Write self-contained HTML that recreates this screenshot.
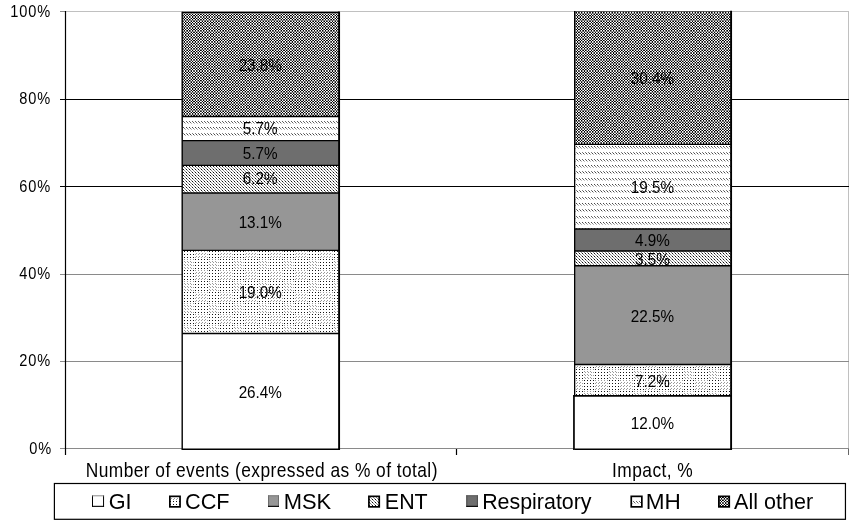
<!DOCTYPE html>
<html lang="en"><head><meta charset="utf-8"><title>Stacked bar chart</title>
<style>
html,body{margin:0;padding:0;background:#fff;}
body{width:853px;height:521px;overflow:hidden;}
svg{display:block;}
text{font-family:"Liberation Sans",Arial,sans-serif;fill:#000;}
.t12{font-size:16.4px;letter-spacing:1px;}.d12{font-size:15.9px;}.t14{font-size:18.67px;letter-spacing:0.47px;}.t16{font-size:22.2px;}
</style></head><body>
<svg width="853" height="521" viewBox="0 0 853 521">
<defs>
<pattern id="pAll" width="36" height="36" patternUnits="userSpaceOnUse" patternTransform="translate(0 0)"><g shape-rendering="crispEdges"><rect width="36" height="36" fill="#ffffff"/><path d="M1 0h1v1h-1zM4 0h1v1h-1zM7 0h1v1h-1zM9 0h1v1h-1zM12 0h1v1h-1zM15 0h1v1h-1zM18 0h1v1h-1zM20 0h1v1h-1zM23 0h1v1h-1zM26 0h1v1h-1zM29 0h1v1h-1zM32 0h1v1h-1zM34 0h1v1h-1zM0 1h1v1h-1zM5 1h1v1h-1zM8 1h1v1h-1zM11 1h1v1h-1zM16 1h1v1h-1zM19 1h1v1h-1zM22 1h1v1h-1zM25 1h1v1h-1zM27 1h1v1h-1zM30 1h1v1h-1zM33 1h1v1h-1zM1 3h1v1h-1zM4 3h1v1h-1zM7 3h1v1h-1zM9 3h1v1h-1zM12 3h1v1h-1zM15 3h1v1h-1zM18 3h1v1h-1zM23 3h1v1h-1zM26 3h1v1h-1zM29 3h1v1h-1zM34 3h1v1h-1zM0 4h1v1h-1zM2 4h1v1h-1zM5 4h1v1h-1zM8 4h1v1h-1zM11 4h1v1h-1zM14 4h1v1h-1zM16 4h1v1h-1zM19 4h1v1h-1zM22 4h1v1h-1zM25 4h1v1h-1zM27 4h1v1h-1zM30 4h1v1h-1zM33 4h1v1h-1zM1 5h1v1h-1zM4 5h1v1h-1zM12 5h1v1h-1zM15 5h1v1h-1zM23 5h1v1h-1zM26 5h1v1h-1zM29 5h1v1h-1zM34 5h1v1h-1zM0 7h1v1h-1zM2 7h1v1h-1zM5 7h1v1h-1zM8 7h1v1h-1zM11 7h1v1h-1zM14 7h1v1h-1zM16 7h1v1h-1zM19 7h1v1h-1zM22 7h1v1h-1zM25 7h1v1h-1zM27 7h1v1h-1zM30 7h1v1h-1zM33 7h1v1h-1zM1 8h1v1h-1zM4 8h1v1h-1zM7 8h1v1h-1zM9 8h1v1h-1zM12 8h1v1h-1zM15 8h1v1h-1zM18 8h1v1h-1zM20 8h1v1h-1zM23 8h1v1h-1zM26 8h1v1h-1zM29 8h1v1h-1zM32 8h1v1h-1zM34 8h1v1h-1zM0 10h1v1h-1zM5 10h1v1h-1zM8 10h1v1h-1zM11 10h1v1h-1zM16 10h1v1h-1zM19 10h1v1h-1zM22 10h1v1h-1zM30 10h1v1h-1zM33 10h1v1h-1zM1 11h1v1h-1zM4 11h1v1h-1zM7 11h1v1h-1zM9 11h1v1h-1zM12 11h1v1h-1zM15 11h1v1h-1zM18 11h1v1h-1zM20 11h1v1h-1zM23 11h1v1h-1zM26 11h1v1h-1zM29 11h1v1h-1zM32 11h1v1h-1zM34 11h1v1h-1zM0 12h1v1h-1zM5 12h1v1h-1zM8 12h1v1h-1zM11 12h1v1h-1zM16 12h1v1h-1zM19 12h1v1h-1zM22 12h1v1h-1zM25 12h1v1h-1zM27 12h1v1h-1zM30 12h1v1h-1zM33 12h1v1h-1zM1 14h1v1h-1zM4 14h1v1h-1zM7 14h1v1h-1zM9 14h1v1h-1zM12 14h1v1h-1zM15 14h1v1h-1zM18 14h1v1h-1zM20 14h1v1h-1zM23 14h1v1h-1zM26 14h1v1h-1zM29 14h1v1h-1zM34 14h1v1h-1zM0 15h1v1h-1zM2 15h1v1h-1zM5 15h1v1h-1zM8 15h1v1h-1zM11 15h1v1h-1zM14 15h1v1h-1zM16 15h1v1h-1zM19 15h1v1h-1zM22 15h1v1h-1zM25 15h1v1h-1zM27 15h1v1h-1zM30 15h1v1h-1zM33 15h1v1h-1zM1 17h1v1h-1zM4 17h1v1h-1zM12 17h1v1h-1zM15 17h1v1h-1zM26 17h1v1h-1zM0 18h1v1h-1zM2 18h1v1h-1zM5 18h1v1h-1zM8 18h1v1h-1zM11 18h1v1h-1zM14 18h1v1h-1zM16 18h1v1h-1zM19 18h1v1h-1zM22 18h1v1h-1zM25 18h1v1h-1zM27 18h1v1h-1zM30 18h1v1h-1zM33 18h1v1h-1zM1 19h1v1h-1zM4 19h1v1h-1zM7 19h1v1h-1zM9 19h1v1h-1zM12 19h1v1h-1zM15 19h1v1h-1zM18 19h1v1h-1zM23 19h1v1h-1zM26 19h1v1h-1zM29 19h1v1h-1zM34 19h1v1h-1zM0 21h1v1h-1zM5 21h1v1h-1zM8 21h1v1h-1zM11 21h1v1h-1zM16 21h1v1h-1zM19 21h1v1h-1zM22 21h1v1h-1zM25 21h1v1h-1zM27 21h1v1h-1zM30 21h1v1h-1zM33 21h1v1h-1zM1 22h1v1h-1zM4 22h1v1h-1zM7 22h1v1h-1zM9 22h1v1h-1zM12 22h1v1h-1zM15 22h1v1h-1zM18 22h1v1h-1zM20 22h1v1h-1zM23 22h1v1h-1zM26 22h1v1h-1zM29 22h1v1h-1zM32 22h1v1h-1zM34 22h1v1h-1zM5 23h1v1h-1zM8 23h1v1h-1zM11 23h1v1h-1zM16 23h1v1h-1zM19 23h1v1h-1zM22 23h1v1h-1zM30 23h1v1h-1zM33 23h1v1h-1zM1 25h1v1h-1zM4 25h1v1h-1zM7 25h1v1h-1zM9 25h1v1h-1zM12 25h1v1h-1zM15 25h1v1h-1zM18 25h1v1h-1zM20 25h1v1h-1zM23 25h1v1h-1zM26 25h1v1h-1zM29 25h1v1h-1zM32 25h1v1h-1zM34 25h1v1h-1zM0 26h1v1h-1zM2 26h1v1h-1zM5 26h1v1h-1zM8 26h1v1h-1zM11 26h1v1h-1zM14 26h1v1h-1zM16 26h1v1h-1zM19 26h1v1h-1zM22 26h1v1h-1zM25 26h1v1h-1zM27 26h1v1h-1zM30 26h1v1h-1zM33 26h1v1h-1zM1 28h1v1h-1zM4 28h1v1h-1zM12 28h1v1h-1zM15 28h1v1h-1zM18 28h1v1h-1zM23 28h1v1h-1zM26 28h1v1h-1zM29 28h1v1h-1zM34 28h1v1h-1zM0 29h1v1h-1zM2 29h1v1h-1zM5 29h1v1h-1zM8 29h1v1h-1zM11 29h1v1h-1zM14 29h1v1h-1zM16 29h1v1h-1zM19 29h1v1h-1zM22 29h1v1h-1zM25 29h1v1h-1zM27 29h1v1h-1zM30 29h1v1h-1zM33 29h1v1h-1zM1 30h1v1h-1zM4 30h1v1h-1zM7 30h1v1h-1zM9 30h1v1h-1zM12 30h1v1h-1zM15 30h1v1h-1zM18 30h1v1h-1zM23 30h1v1h-1zM26 30h1v1h-1zM29 30h1v1h-1zM34 30h1v1h-1zM0 32h1v1h-1zM2 32h1v1h-1zM5 32h1v1h-1zM8 32h1v1h-1zM11 32h1v1h-1zM16 32h1v1h-1zM19 32h1v1h-1zM22 32h1v1h-1zM25 32h1v1h-1zM27 32h1v1h-1zM30 32h1v1h-1zM33 32h1v1h-1zM1 33h1v1h-1zM4 33h1v1h-1zM7 33h1v1h-1zM9 33h1v1h-1zM12 33h1v1h-1zM15 33h1v1h-1zM18 33h1v1h-1zM20 33h1v1h-1zM23 33h1v1h-1zM26 33h1v1h-1zM29 33h1v1h-1zM32 33h1v1h-1zM34 33h1v1h-1zM8 35h1v1h-1zM19 35h1v1h-1zM22 35h1v1h-1zM30 35h1v1h-1zM33 35h1v1h-1z" fill="#000000"/><path d="M2 1h1v1h-1zM14 1h1v1h-1zM20 3h1v1h-1zM13 4h1v1h-1zM18 5h1v1h-1zM25 10h1v1h-1zM27 10h1v1h-1zM31 11h1v1h-1zM32 14h1v1h-1zM1 16h1v1h-1zM12 16h1v1h-1zM15 16h1v1h-1zM26 16h1v1h-1zM23 17h1v1h-1zM29 17h1v1h-1zM20 19h1v1h-1zM32 19h1v1h-1zM2 21h1v1h-1zM31 22h1v1h-1zM0 23h1v1h-1zM7 28h1v1h-1zM9 28h1v1h-1zM13 29h1v1h-1zM14 32h1v1h-1zM8 34h1v1h-1zM19 34h1v1h-1zM30 34h1v1h-1zM33 34h1v1h-1zM5 35h1v1h-1zM11 35h1v1h-1z" fill="#111111"/><path d="M21 0h1v1h-1zM31 0h1v1h-1zM32 3h1v1h-1zM3 4h1v1h-1zM7 5h1v1h-1zM9 5h1v1h-1zM13 7h1v1h-1zM31 8h1v1h-1zM2 10h1v1h-1zM21 11h1v1h-1zM2 12h1v1h-1zM14 12h1v1h-1zM31 14h1v1h-1zM13 15h1v1h-1zM4 16h1v1h-1zM23 16h1v1h-1zM29 16h1v1h-1zM34 16h1v1h-1zM9 17h1v1h-1zM18 17h1v1h-1zM34 17h1v1h-1zM3 18h1v1h-1zM13 18h1v1h-1zM14 21h1v1h-1zM21 22h1v1h-1zM25 23h1v1h-1zM27 23h1v1h-1zM31 25h1v1h-1zM13 26h1v1h-1zM20 28h1v1h-1zM3 29h1v1h-1zM20 30h1v1h-1zM32 30h1v1h-1zM13 32h1v1h-1zM31 33h1v1h-1zM5 34h1v1h-1zM11 34h1v1h-1zM16 34h1v1h-1zM22 34h1v1h-1zM0 35h1v1h-1zM16 35h1v1h-1zM27 35h1v1h-1z" fill="#222222"/><path d="M3 1h1v1h-1zM13 1h1v1h-1zM31 3h1v1h-1zM20 5h1v1h-1zM32 5h1v1h-1zM1 6h1v1h-1zM4 6h1v1h-1zM12 6h1v1h-1zM15 6h1v1h-1zM23 6h1v1h-1zM26 6h1v1h-1zM29 6h1v1h-1zM3 7h1v1h-1zM21 8h1v1h-1zM14 10h1v1h-1zM13 12h1v1h-1zM21 14h1v1h-1zM3 15h1v1h-1zM9 16h1v1h-1zM18 16h1v1h-1zM7 17h1v1h-1zM21 19h1v1h-1zM31 19h1v1h-1zM13 21h1v1h-1zM2 23h1v1h-1zM14 23h1v1h-1zM5 24h1v1h-1zM8 24h1v1h-1zM11 24h1v1h-1zM19 24h1v1h-1zM22 24h1v1h-1zM30 24h1v1h-1zM33 24h1v1h-1zM21 25h1v1h-1zM3 26h1v1h-1zM32 28h1v1h-1zM31 30h1v1h-1zM3 32h1v1h-1zM21 33h1v1h-1zM0 34h1v1h-1zM27 34h1v1h-1zM25 35h1v1h-1z" fill="#333333"/><path d="M6 0h1v1h-1zM21 3h1v1h-1zM24 4h1v1h-1zM31 5h1v1h-1zM9 6h1v1h-1zM18 6h1v1h-1zM34 6h1v1h-1zM5 9h1v1h-1zM8 9h1v1h-1zM11 9h1v1h-1zM19 9h1v1h-1zM22 9h1v1h-1zM30 9h1v1h-1zM33 9h1v1h-1zM3 10h1v1h-1zM13 10h1v1h-1zM6 11h1v1h-1zM3 12h1v1h-1zM24 15h1v1h-1zM7 16h1v1h-1zM20 16h1v1h-1zM20 17h1v1h-1zM32 17h1v1h-1zM24 18h1v1h-1zM3 21h1v1h-1zM6 22h1v1h-1zM13 23h1v1h-1zM0 24h1v1h-1zM16 24h1v1h-1zM27 24h1v1h-1zM1 27h1v1h-1zM4 27h1v1h-1zM12 27h1v1h-1zM15 27h1v1h-1zM23 27h1v1h-1zM26 27h1v1h-1zM29 27h1v1h-1zM21 28h1v1h-1zM31 28h1v1h-1zM24 29h1v1h-1zM21 30h1v1h-1zM6 33h1v1h-1zM2 34h1v1h-1zM25 34h1v1h-1zM2 35h1v1h-1zM14 35h1v1h-1z" fill="#444444"/><path d="M10 0h1v1h-1zM24 1h1v1h-1zM6 3h1v1h-1zM28 4h1v1h-1zM21 5h1v1h-1zM7 6h1v1h-1zM20 6h1v1h-1zM32 6h1v1h-1zM24 7h1v1h-1zM28 7h1v1h-1zM6 8h1v1h-1zM0 9h1v1h-1zM16 9h1v1h-1zM25 9h1v1h-1zM27 9h1v1h-1zM10 11h1v1h-1zM24 12h1v1h-1zM6 14h1v1h-1zM28 15h1v1h-1zM31 16h2v1h-2zM21 17h1v1h-1zM31 17h1v1h-1zM28 18h1v1h-1zM6 19h1v1h-1zM24 21h1v1h-1zM10 22h1v1h-1zM3 23h1v1h-1zM2 24h1v1h-1zM14 24h1v1h-1zM25 24h1v1h-1zM6 25h1v1h-1zM10 25h1v1h-1zM24 26h1v1h-1zM7 27h1v1h-1zM9 27h1v1h-1zM18 27h1v1h-1zM34 27h1v1h-1zM28 29h1v1h-1zM6 30h1v1h-1zM24 32h1v1h-1zM10 33h1v1h-1zM13 34h2v1h-2zM3 35h1v1h-1zM13 35h1v1h-1z" fill="#555555"/><path d="M28 1h1v1h-1zM10 3h1v1h-1zM6 5h1v1h-1zM10 5h1v1h-1zM21 6h1v1h-1zM31 6h1v1h-1zM10 8h1v1h-1zM2 9h1v1h-1zM13 9h2v1h-2zM24 10h1v1h-1zM28 10h1v1h-1zM28 12h1v1h-1zM0 13h1v1h-1zM5 13h1v1h-1zM8 13h1v1h-1zM11 13h1v1h-1zM16 13h1v1h-1zM19 13h1v1h-1zM22 13h1v1h-1zM25 13h1v1h-1zM27 13h1v1h-1zM30 13h1v1h-1zM33 13h1v1h-1zM10 14h1v1h-1zM6 16h1v1h-1zM21 16h1v1h-1zM6 17h1v1h-1zM10 19h1v1h-1zM28 21h1v1h-1zM24 23h1v1h-1zM28 23h1v1h-1zM3 24h1v1h-1zM13 24h1v1h-1zM28 26h1v1h-1zM20 27h1v1h-1zM31 27h2v1h-2zM6 28h1v1h-1zM10 28h1v1h-1zM10 30h1v1h-1zM1 31h1v1h-1zM4 31h1v1h-1zM7 31h1v1h-1zM9 31h1v1h-1zM12 31h1v1h-1zM15 31h1v1h-1zM18 31h1v1h-1zM23 31h1v1h-1zM26 31h1v1h-1zM29 31h1v1h-1zM34 31h1v1h-1zM28 32h1v1h-1zM3 34h1v1h-1zM24 34h1v1h-1zM24 35h1v1h-1z" fill="#666666"/><path d="M17 0h1v1h-1zM35 1h1v1h-1zM1 2h1v1h-1zM4 2h1v1h-1zM7 2h1v1h-1zM9 2h1v1h-1zM12 2h1v1h-1zM15 2h1v1h-1zM18 2h1v1h-1zM20 2h1v1h-1zM23 2h1v1h-1zM26 2h1v1h-1zM29 2h1v1h-1zM31 2h2v1h-2zM34 2h1v1h-1zM17 3h1v1h-1zM35 4h1v1h-1zM6 6h1v1h-1zM10 6h1v1h-1zM35 7h1v1h-1zM17 8h1v1h-1zM3 9h1v1h-1zM24 9h1v1h-1zM28 9h1v1h-1zM35 10h1v1h-1zM17 11h1v1h-1zM35 12h1v1h-1zM2 13h2v1h-2zM13 13h2v1h-2zM24 13h1v1h-1zM28 13h1v1h-1zM17 14h1v1h-1zM35 15h1v1h-1zM10 16h1v1h-1zM10 17h1v1h-1zM35 18h1v1h-1zM17 19h1v1h-1zM0 20h1v1h-1zM2 20h1v1h-1zM5 20h1v1h-1zM8 20h1v1h-1zM11 20h1v1h-1zM13 20h2v1h-2zM16 20h1v1h-1zM19 20h1v1h-1zM22 20h1v1h-1zM25 20h1v1h-1zM27 20h1v1h-1zM30 20h1v1h-1zM33 20h1v1h-1zM35 21h1v1h-1zM17 22h1v1h-1zM24 24h1v1h-1zM28 24h1v1h-1zM17 25h1v1h-1zM35 26h1v1h-1zM6 27h1v1h-1zM10 27h1v1h-1zM21 27h1v1h-1zM17 28h1v1h-1zM35 29h1v1h-1zM17 30h1v1h-1zM6 31h1v1h-1zM10 31h1v1h-1zM20 31h2v1h-2zM31 31h2v1h-2zM35 32h1v1h-1zM17 33h1v1h-1zM28 34h1v1h-1zM28 35h1v1h-1z" fill="#777777"/><path d="M35 0h1v1h-1zM17 1h1v1h-1zM0 2h1v1h-1zM2 2h2v1h-2zM6 2h1v1h-1zM10 2h1v1h-1zM13 2h2v1h-2zM16 2h2v1h-2zM21 2h1v1h-1zM24 2h2v1h-2zM27 2h2v1h-2zM35 2h1v1h-1zM35 3h1v1h-1zM17 4h1v1h-1zM17 5h1v1h-1zM35 5h1v1h-1zM17 6h1v1h-1zM35 6h1v1h-1zM17 7h1v1h-1zM35 8h1v1h-1zM10 9h1v1h-1zM17 9h1v1h-1zM35 9h1v1h-1zM17 10h1v1h-1zM35 11h1v1h-1zM17 12h1v1h-1zM6 13h1v1h-1zM10 13h1v1h-1zM17 13h1v1h-1zM21 13h1v1h-1zM35 13h1v1h-1zM35 14h1v1h-1zM17 15h1v1h-1zM17 16h1v1h-1zM35 16h1v1h-1zM17 17h1v1h-1zM35 17h1v1h-1zM17 18h1v1h-1zM35 19h1v1h-1zM3 20h1v1h-1zM6 20h2v1h-2zM9 20h2v1h-2zM17 20h2v1h-2zM20 20h2v1h-2zM24 20h1v1h-1zM28 20h1v1h-1zM31 20h2v1h-2zM34 20h2v1h-2zM17 21h1v1h-1zM35 22h1v1h-1zM17 23h1v1h-1zM35 23h1v1h-1zM17 24h1v1h-1zM35 24h1v1h-1zM35 25h1v1h-1zM17 26h1v1h-1zM17 27h1v1h-1zM28 27h1v1h-1zM35 27h1v1h-1zM35 28h1v1h-1zM17 29h1v1h-1zM35 30h1v1h-1zM3 31h1v1h-1zM17 31h1v1h-1zM24 31h1v1h-1zM28 31h1v1h-1zM35 31h1v1h-1zM17 32h1v1h-1zM35 33h1v1h-1zM17 34h1v1h-1zM35 34h1v1h-1zM17 35h1v1h-1zM35 35h1v1h-1z" fill="#888888"/><path d="M5 2h1v1h-1zM8 2h1v1h-1zM11 2h1v1h-1zM19 2h1v1h-1zM22 2h1v1h-1zM30 2h1v1h-1zM33 2h1v1h-1zM28 5h1v1h-1zM3 6h1v1h-1zM24 6h1v1h-1zM28 6h1v1h-1zM6 9h1v1h-1zM21 9h1v1h-1zM31 9h1v1h-1zM10 10h1v1h-1zM7 13h1v1h-1zM9 13h1v1h-1zM18 13h1v1h-1zM20 13h1v1h-1zM31 13h2v1h-2zM24 16h1v1h-1zM28 16h1v1h-1zM24 17h1v1h-1zM28 17h1v1h-1zM1 20h1v1h-1zM4 20h1v1h-1zM12 20h1v1h-1zM15 20h1v1h-1zM23 20h1v1h-1zM26 20h1v1h-1zM29 20h1v1h-1zM10 23h1v1h-1zM6 24h1v1h-1zM10 24h1v1h-1zM21 24h1v1h-1zM3 27h1v1h-1zM13 27h1v1h-1zM24 27h1v1h-1zM28 28h1v1h-1zM0 31h1v1h-1zM2 31h1v1h-1zM13 31h2v1h-2zM25 31h1v1h-1zM27 31h1v1h-1zM6 34h1v1h-1zM10 34h1v1h-1zM6 35h1v1h-1zM10 35h1v1h-1z" fill="#999999"/><path d="M28 0h1v1h-1zM10 1h1v1h-1zM24 3h1v1h-1zM28 3h1v1h-1zM10 4h1v1h-1zM24 5h1v1h-1zM2 6h1v1h-1zM13 6h2v1h-2zM10 7h1v1h-1zM28 8h1v1h-1zM7 9h1v1h-1zM9 9h1v1h-1zM20 9h1v1h-1zM32 9h1v1h-1zM6 10h1v1h-1zM28 11h1v1h-1zM6 12h1v1h-1zM10 12h1v1h-1zM1 13h1v1h-1zM4 13h1v1h-1zM12 13h1v1h-1zM15 13h1v1h-1zM23 13h1v1h-1zM26 13h1v1h-1zM29 13h1v1h-1zM34 13h1v1h-1zM28 14h1v1h-1zM10 15h1v1h-1zM3 16h1v1h-1zM13 16h1v1h-1zM3 17h1v1h-1zM10 18h1v1h-1zM28 19h1v1h-1zM6 21h1v1h-1zM10 21h1v1h-1zM28 22h1v1h-1zM6 23h1v1h-1zM20 24h1v1h-1zM31 24h2v1h-2zM28 25h1v1h-1zM10 26h1v1h-1zM2 27h1v1h-1zM14 27h1v1h-1zM25 27h1v1h-1zM27 27h1v1h-1zM24 28h1v1h-1zM10 29h1v1h-1zM24 30h1v1h-1zM28 30h1v1h-1zM5 31h1v1h-1zM8 31h1v1h-1zM11 31h1v1h-1zM16 31h1v1h-1zM19 31h1v1h-1zM22 31h1v1h-1zM30 31h1v1h-1zM33 31h1v1h-1zM10 32h1v1h-1zM28 33h1v1h-1zM21 34h1v1h-1zM31 34h1v1h-1zM21 35h1v1h-1z" fill="#aaaaaa"/><path d="M24 0h1v1h-1zM6 1h1v1h-1zM6 4h1v1h-1zM3 5h1v1h-1zM13 5h1v1h-1zM25 6h1v1h-1zM27 6h1v1h-1zM6 7h1v1h-1zM24 8h1v1h-1zM4 9h1v1h-1zM12 9h1v1h-1zM18 9h1v1h-1zM23 9h1v1h-1zM29 9h1v1h-1zM34 9h1v1h-1zM21 10h1v1h-1zM24 11h1v1h-1zM24 14h1v1h-1zM6 15h1v1h-1zM2 16h1v1h-1zM14 16h1v1h-1zM13 17h1v1h-1zM6 18h1v1h-1zM24 19h1v1h-1zM24 22h1v1h-1zM21 23h1v1h-1zM31 23h1v1h-1zM7 24h1v1h-1zM9 24h1v1h-1zM24 25h1v1h-1zM6 26h1v1h-1zM0 27h1v1h-1zM5 27h1v1h-1zM11 27h1v1h-1zM16 27h1v1h-1zM22 27h1v1h-1zM30 27h1v1h-1zM3 28h1v1h-1zM6 29h1v1h-1zM6 32h1v1h-1zM24 33h1v1h-1zM20 34h1v1h-1zM32 34h1v1h-1zM31 35h1v1h-1z" fill="#bbbbbb"/><path d="M21 1h1v1h-1zM3 3h1v1h-1zM14 5h1v1h-1zM0 6h1v1h-1zM5 6h1v1h-1zM11 6h1v1h-1zM16 6h1v1h-1zM1 9h1v1h-1zM15 9h1v1h-1zM26 9h1v1h-1zM31 10h1v1h-1zM21 12h1v1h-1zM31 12h1v1h-1zM3 14h1v1h-1zM25 16h1v1h-1zM27 16h1v1h-1zM2 17h1v1h-1zM14 17h1v1h-1zM3 19h1v1h-1zM21 21h1v1h-1zM32 23h1v1h-1zM18 24h1v1h-1zM23 24h1v1h-1zM29 24h1v1h-1zM34 24h1v1h-1zM8 27h1v1h-1zM19 27h1v1h-1zM33 27h1v1h-1zM13 28h1v1h-1zM3 30h1v1h-1zM13 30h1v1h-1zM21 32h1v1h-1zM7 34h1v1h-1zM9 34h1v1h-1zM20 35h1v1h-1zM32 35h1v1h-1z" fill="#cccccc"/><path d="M3 0h1v1h-1zM31 1h1v1h-1zM13 3h1v1h-1zM21 4h1v1h-1zM2 5h1v1h-1zM8 6h1v1h-1zM19 6h1v1h-1zM22 6h1v1h-1zM30 6h1v1h-1zM33 6h1v1h-1zM21 7h1v1h-1zM3 8h1v1h-1zM20 10h1v1h-1zM32 10h1v1h-1zM3 11h1v1h-1zM32 12h1v1h-1zM13 14h1v1h-1zM21 15h1v1h-1zM0 16h1v1h-1zM16 16h1v1h-1zM25 17h1v1h-1zM27 17h1v1h-1zM21 18h1v1h-1zM13 19h1v1h-1zM31 21h1v1h-1zM3 22h1v1h-1zM20 23h1v1h-1zM1 24h1v1h-1zM4 24h1v1h-1zM12 24h1v1h-1zM15 24h1v1h-1zM26 24h1v1h-1zM3 25h1v1h-1zM21 26h1v1h-1zM2 28h1v1h-1zM14 28h1v1h-1zM21 29h1v1h-1zM14 30h1v1h-1zM31 32h1v1h-1zM3 33h1v1h-1zM18 34h1v1h-1zM34 34h1v1h-1zM7 35h1v1h-1zM9 35h1v1h-1z" fill="#dddddd"/><path d="M13 0h1v1h-1zM32 1h1v1h-1zM14 3h1v1h-1zM31 4h1v1h-1zM25 5h1v1h-1zM27 5h1v1h-1zM31 7h1v1h-1zM13 8h1v1h-1zM7 10h1v1h-1zM13 11h1v1h-1zM20 12h1v1h-1zM31 15h1v1h-1zM5 16h1v1h-1zM11 16h1v1h-1zM19 16h1v1h-1zM22 16h1v1h-1zM30 16h1v1h-1zM33 16h1v1h-1zM0 17h1v1h-1zM16 17h1v1h-1zM31 18h1v1h-1zM14 19h1v1h-1zM32 21h1v1h-1zM13 22h1v1h-1zM7 23h1v1h-1zM9 23h1v1h-1zM13 25h1v1h-1zM31 26h1v1h-1zM25 28h1v1h-1zM31 29h1v1h-1zM2 30h1v1h-1zM13 33h1v1h-1zM1 34h1v1h-1zM4 34h1v1h-1zM12 34h1v1h-1zM15 34h1v1h-1zM23 34h1v1h-1zM29 34h1v1h-1zM18 35h1v1h-1zM34 35h1v1h-1z" fill="#eeeeee"/></g></pattern>
<pattern id="pCCF" width="25" height="22" patternUnits="userSpaceOnUse" patternTransform="translate(9 6)"><rect width="25" height="22" fill="#fff"/><g shape-rendering="crispEdges"><path d="M0 11h1v1h-1zM0 13h1v1h-1zM0 16h1v1h-1zM0 19h1v1h-1zM1 14h1v1h-1zM1 17h1v1h-1zM1 20h1v1h-1zM3 11h1v1h-1zM3 13h1v1h-1zM3 16h1v1h-1zM3 19h1v1h-1zM4 14h1v1h-1zM4 17h1v1h-1zM4 20h1v1h-1zM6 11h1v1h-1zM6 13h1v1h-1zM6 16h1v1h-1zM6 19h1v1h-1zM7 14h1v1h-1zM7 17h1v1h-1zM7 20h1v1h-1zM9 11h1v1h-1zM9 14h1v1h-1zM9 17h1v1h-1zM9 20h1v1h-1zM11 0h1v1h-1zM11 3h1v1h-1zM11 6h1v1h-1zM11 9h1v1h-1zM12 2h1v1h-1zM12 5h1v1h-1zM12 8h1v1h-1zM14 0h1v1h-1zM14 3h1v1h-1zM14 6h1v1h-1zM14 9h1v1h-1zM15 2h1v1h-1zM15 5h1v1h-1zM15 8h1v1h-1zM17 0h1v1h-1zM17 3h1v1h-1zM17 6h1v1h-1zM17 9h1v1h-1zM18 2h1v1h-1zM18 5h1v1h-1zM18 8h1v1h-1zM20 0h1v1h-1zM20 3h1v1h-1zM20 6h1v1h-1zM20 9h1v1h-1zM21 2h1v1h-1zM21 5h1v1h-1zM21 8h1v1h-1zM23 0h1v1h-1zM23 3h1v1h-1zM23 6h1v1h-1zM23 9h1v1h-1z" fill="#9a9a9a"/><path d="M0 0h1v1h-1zM0 3h1v1h-1zM0 6h1v1h-1zM0 9h1v1h-1zM3 0h1v1h-1zM3 3h1v1h-1zM3 6h1v1h-1zM3 9h1v1h-1zM6 0h1v1h-1zM6 3h1v1h-1zM6 6h1v1h-1zM6 9h1v1h-1zM9 0h1v1h-1zM9 3h1v1h-1zM9 6h1v1h-1zM9 9h1v1h-1zM11 11h1v1h-1zM11 14h1v1h-1zM11 17h1v1h-1zM11 20h1v1h-1zM14 11h1v1h-1zM14 14h1v1h-1zM14 17h1v1h-1zM14 20h1v1h-1zM17 11h1v1h-1zM17 14h1v1h-1zM17 17h1v1h-1zM17 20h1v1h-1zM20 11h1v1h-1zM20 14h1v1h-1zM20 17h1v1h-1zM20 20h1v1h-1zM23 11h1v1h-1zM23 14h1v1h-1zM23 17h1v1h-1zM23 20h1v1h-1z" fill="#141414"/></g></pattern>
<pattern id="pENT" width="3" height="3" patternUnits="userSpaceOnUse" patternTransform="translate(0 1)"><rect width="3" height="3" fill="#fff"/><g shape-rendering="crispEdges"><rect x="0" y="0" width="1" height="1" fill="#111"/><rect x="1" y="1" width="1" height="1" fill="#888"/><rect x="2" y="2" width="1" height="1" fill="#888"/></g></pattern>
<pattern id="pMH" width="3" height="19" patternUnits="userSpaceOnUse" patternTransform="translate(0 13)"><rect width="3" height="19" fill="#fff"/><g shape-rendering="crispEdges"><rect x="0" y="0" width="1" height="1" fill="#484848"/><rect x="1" y="1" width="1" height="1" fill="#808080"/><rect x="2" y="2" width="1" height="1" fill="#b8b8b8"/><rect x="0" y="6" width="1" height="1" fill="#808080"/><rect x="1" y="7" width="1" height="1" fill="#484848"/><rect x="2" y="8" width="1" height="1" fill="#b8b8b8"/><rect x="0" y="13" width="1" height="1" fill="#646464"/><rect x="1" y="14" width="1" height="1" fill="#646464"/><rect x="2" y="15" width="1" height="1" fill="#c0c0c0"/></g></pattern>
</defs>
<rect width="853" height="521" fill="#fff"/>
<path d="M65 11.5H849M848.5 11V449" stroke="#c0c0c0" stroke-width="1" fill="none"/>
<path d="M60 99.5H849M60 186.5H849" stroke="#000" stroke-width="1" fill="none"/>
<path d="M60 274.5H849M60 361.5H849M60 448.5H849" stroke="#8a8a8a" stroke-width="1" fill="none"/>
<path d="M60 11.5H65" stroke="#8a8a8a" stroke-width="1" fill="none"/>
<path d="M65.5 11V455" stroke="#000" stroke-width="1.2" fill="none"/>
<path d="M456.5 449V455" stroke="#000" stroke-width="1.2" fill="none"/>
<path d="M848.5 449V455" stroke="#666" stroke-width="1" fill="none"/>
<rect x="182.2" y="12.3" width="156.9" height="104.2" fill="url(#pAll)"/>
<rect x="182.2" y="116.5" width="156.9" height="24.1" fill="url(#pMH)"/>
<rect x="182.2" y="140.6" width="156.9" height="24.8" fill="#6e6e6e"/>
<rect x="182.2" y="165.4" width="156.9" height="27.6" fill="url(#pENT)"/>
<rect x="182.2" y="193" width="156.9" height="57.4" fill="#969696"/>
<rect x="182.2" y="250.4" width="156.9" height="83.1" fill="url(#pCCF)"/>
<rect x="182.2" y="333.5" width="156.9" height="115.7" fill="#fff"/>
<path d="M182.2 116.5H339.1M182.2 140.6H339.1M182.2 165.4H339.1M182.2 193H339.1M182.2 250.4H339.1M182.2 333.5H339.1M182.2 449.2H339.1" stroke="#000" stroke-width="1.4" fill="none"/>
<path d="M182.2 12.3H339.1" stroke="#000" stroke-width="1.2" fill="none"/>
<path d="M182.2 11.7V449.9" stroke="#000" stroke-width="1.4" fill="none"/>
<path d="M339.1 11.6V449.9" stroke="#000" stroke-width="1.9" fill="none"/>
<text class="d12" transform="translate(260.25 70.65) scale(0.96 1)" text-anchor="middle">23.8%</text>
<text class="d12" transform="translate(260.25 134.1) scale(0.96 1)" text-anchor="middle">5.7%</text>
<text class="d12" transform="translate(260.25 159.25) scale(0.96 1)" text-anchor="middle">5.7%</text>
<text class="d12" transform="translate(260.25 184.45) scale(0.96 1)" text-anchor="middle">6.2%</text>
<text class="d12" transform="translate(260.25 227.95) scale(0.96 1)" text-anchor="middle">13.1%</text>
<text class="d12" transform="translate(260.25 298.2) scale(0.96 1)" text-anchor="middle">19.0%</text>
<text class="d12" transform="translate(260.25 397.6) scale(0.96 1)" text-anchor="middle">26.4%</text>
<rect x="574.5" y="11.5" width="156.6" height="132.9" fill="url(#pAll)"/>
<rect x="574.5" y="144.4" width="156.6" height="84.6" fill="url(#pMH)"/>
<rect x="574.5" y="229" width="156.6" height="22" fill="#6e6e6e"/>
<rect x="574.5" y="251" width="156.6" height="14.7" fill="url(#pENT)"/>
<rect x="574.5" y="265.7" width="156.6" height="98.8" fill="#969696"/>
<rect x="574.5" y="364.5" width="156.6" height="31.4" fill="url(#pCCF)"/>
<rect x="574.5" y="395.9" width="156.6" height="53.3" fill="#fff"/>
<path d="M573.5 395.9H731.1" stroke="#000" stroke-width="1.8" fill="none"/>
<path d="M574.5 144.4H731.1M574.5 229H731.1M574.5 251H731.1M574.5 265.7H731.1M574.5 364.5H731.1M574.5 449.2H731.1" stroke="#000" stroke-width="1.4" fill="none"/>
<path d="M574.5 11.5H731.1" stroke="#5a5a5a" stroke-width="1" fill="none"/>
<path d="M574.65 11V395.9" stroke="#000" stroke-width="1.3" fill="none"/>
<path d="M573.95 395V449.9" stroke="#000" stroke-width="1.7" fill="none"/>
<path d="M731.1 10.8V449.9" stroke="#000" stroke-width="1.9" fill="none"/>
<text class="d12" transform="translate(652.4 84.2) scale(0.96 1)" text-anchor="middle">30.4%</text>
<text class="d12" transform="translate(652.4 192.95) scale(0.96 1)" text-anchor="middle">19.5%</text>
<text class="d12" transform="translate(652.4 246.25) scale(0.96 1)" text-anchor="middle">4.9%</text>
<text class="d12" transform="translate(652.4 264.6) scale(0.96 1)" text-anchor="middle">3.5%</text>
<text class="d12" transform="translate(652.4 322.15) scale(0.96 1)" text-anchor="middle">22.5%</text>
<text class="d12" transform="translate(652.4 387.25) scale(0.96 1)" text-anchor="middle">7.2%</text>
<text class="d12" transform="translate(652.4 428.8) scale(0.96 1)" text-anchor="middle">12.0%</text>
<text class="t12" transform="translate(51.2 16.9) scale(0.89 1)" text-anchor="end">100%</text>
<text class="t12" transform="translate(51.2 104.1) scale(0.89 1)" text-anchor="end">80%</text>
<text class="t12" transform="translate(51.2 191.8) scale(0.89 1)" text-anchor="end">60%</text>
<text class="t12" transform="translate(51.2 279.2) scale(0.89 1)" text-anchor="end">40%</text>
<text class="t12" transform="translate(51.2 366.2) scale(0.89 1)" text-anchor="end">20%</text>
<text class="t12" transform="translate(52.2 453.85) scale(0.89 1)" text-anchor="end">0%</text>
<text class="t14" transform="translate(261.8 476.8) scale(0.93 1.06)" text-anchor="middle">Number of events (expressed as % of total)</text>
<text class="t14" transform="translate(652.6 476.8) scale(0.93 1.06)" text-anchor="middle">Impact, %</text>
<rect x="54.4" y="483.5" width="791.05" height="35.8" fill="#fff" stroke="#000" stroke-width="1.2"/>
<rect x="92" y="495.3" width="12.05" height="11.6" fill="#fff"/>
<path d="M92.5 495.3V506.9M103.55 495.3V506.9" stroke="#000" stroke-width="1" fill="none"/>
<path d="M92 495.8H104.05" stroke="#8a8a8a" stroke-width="1" fill="none"/>
<path d="M92 506.35H104.05" stroke="#000" stroke-width="1.1" fill="none"/>
<text class="t16" transform="translate(108.66 508.9) scale(0.976 1)">GI</text>
<rect x="169.85" y="496.35" width="10.2" height="10.5" fill="url(#pCCF)" stroke="#000" stroke-width="1.7"/>
<text class="t16" transform="translate(185.04 508.9) scale(0.9778 1)">CCF</text>
<rect x="268.05" y="495.3" width="10.95" height="11.6" fill="#969696"/>
<path d="M268.55 495.3V506.9M278.5 495.3V506.9" stroke="#6c6c6c" stroke-width="1" fill="none"/>
<path d="M268.05 495.8H279" stroke="#7c7c7c" stroke-width="1" fill="none"/>
<path d="M268.05 506.35H279" stroke="#000" stroke-width="1.1" fill="none"/>
<text class="t16" transform="translate(283.72 508.9) scale(0.9881 1)">MSK</text>
<rect x="368.9" y="496.35" width="10.35" height="10.5" fill="url(#pENT)" stroke="#000" stroke-width="1.7"/>
<text class="t16" transform="translate(384.87 508.9) scale(0.9647 1)">ENT</text>
<rect x="466.3" y="495.3" width="11.6" height="11.6" fill="#6e6e6e"/>
<path d="M466.8 495.3V506.9M477.4 495.3V506.9" stroke="#4c4c4c" stroke-width="1" fill="none"/>
<path d="M466.3 495.8H477.9" stroke="#5c5c5c" stroke-width="1" fill="none"/>
<path d="M466.3 506.35H477.9" stroke="#000" stroke-width="1.1" fill="none"/>
<text class="t16" transform="translate(482.17 508.9) scale(0.964 1)">Respiratory</text>
<rect x="631.25" y="496.35" width="10.6" height="10.5" fill="url(#pMH)" stroke="#000" stroke-width="1.7"/>
<text class="t16" transform="translate(645.77 508.9) scale(1.0162 1)">MH</text>
<rect x="718.85" y="496.35" width="10.4" height="10.5" fill="url(#pAll)" stroke="#000" stroke-width="1.7"/>
<text class="t16" transform="translate(734.03 508.9) scale(0.9712 1)">All other</text>
</svg>
</body></html>
